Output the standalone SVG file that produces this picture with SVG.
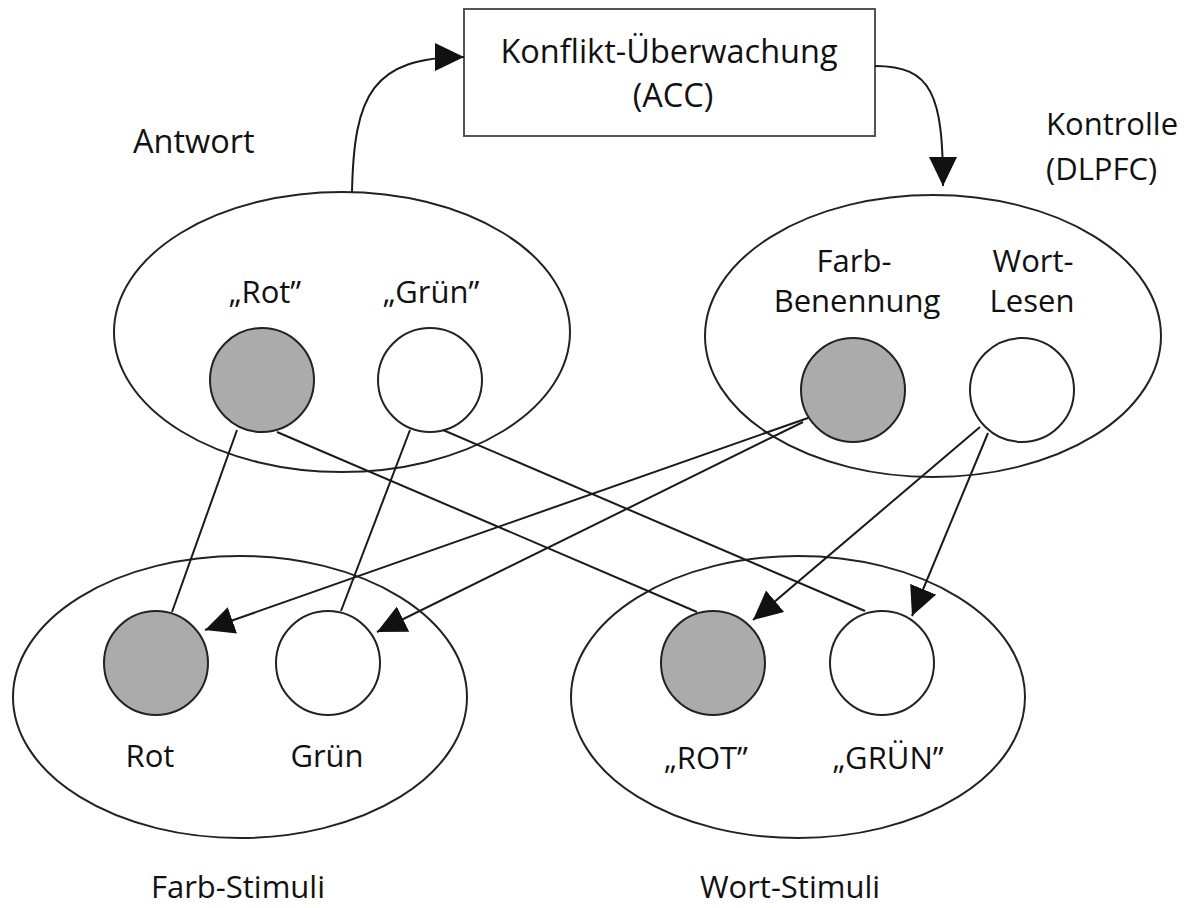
<svg xmlns="http://www.w3.org/2000/svg" width="1195" height="908" viewBox="0 0 1195 908">
  <style>
    text { font-family: "Open Sans", "Liberation Sans", sans-serif; font-size: 31px; fill: #111; }
    .mid { text-anchor: middle; }
    .big { font-size: 32.5px; }
    .group { fill: none; stroke: #222; stroke-width: 2; }
    .unit { stroke: #222; stroke-width: 2; }
    .on { fill: #ababab; }
    .off { fill: #fff; }
    .link { fill: none; stroke: #1a1a1a; stroke-width: 2; }
    .box { fill: #fff; stroke: #555; stroke-width: 2; }
  </style>
  <defs>
    <marker id="tri" markerUnits="userSpaceOnUse" markerWidth="30" markerHeight="28" refX="29" refY="14" orient="auto">
      <path d="M0,0 L29,14 L0,28 z" fill="#111"/>
    </marker>
  </defs>
  <rect width="1195" height="908" fill="#fff"/>

  <!-- monitoring box -->
  <g id="acc">
    <rect class="box" x="464" y="9" width="411" height="127"/>
    <text class="mid big" x="669" y="63">Konflikt-Überwachung</text>
    <text class="mid big" x="673" y="107">(ACC)</text>
  </g>

  <!-- response layer -->
  <g id="antwort">
    <ellipse class="group" cx="342" cy="332" rx="228" ry="140"/>
    <text class="big" x="133" y="153">Antwort</text>
  </g>
  <g id="resp-rot">
    <circle class="unit on" cx="262" cy="380" r="52"/>
    <text class="mid" x="265" y="303">„Rot”</text>
  </g>
  <g id="resp-gruen">
    <circle class="unit off" cx="430" cy="380" r="52"/>
    <text class="mid" x="431" y="303">„Grün”</text>
  </g>

  <!-- control layer -->
  <g id="kontrolle">
    <ellipse class="group" cx="933" cy="336" rx="228" ry="141"/>
    <text x="1046" y="135">Kontrolle</text>
    <text x="1046" y="180">(DLPFC)</text>
  </g>
  <g id="ctrl-farb">
    <circle class="unit on" cx="853" cy="390" r="52"/>
    <text class="mid" x="854" y="272">Farb-</text>
    <text class="mid" x="857" y="312">Benennung</text>
  </g>
  <g id="ctrl-wort">
    <circle class="unit off" cx="1022" cy="390" r="52"/>
    <text class="mid" x="1033" y="272">Wort-</text>
    <text class="mid" x="1032" y="312">Lesen</text>
  </g>

  <!-- colour stimuli -->
  <g id="farb-stimuli">
    <ellipse class="group" cx="240" cy="697" rx="227" ry="141"/>
    <text class="mid" x="238" y="898">Farb-Stimuli</text>
  </g>
  <g id="stim-rot">
    <circle class="unit on" cx="156" cy="663" r="52"/>
    <text class="mid" x="150" y="767">Rot</text>
  </g>
  <g id="stim-gruen">
    <circle class="unit off" cx="328" cy="663" r="52"/>
    <text class="mid" x="327" y="767">Grün</text>
  </g>

  <!-- word stimuli -->
  <g id="wort-stimuli">
    <ellipse class="group" cx="798" cy="697" rx="227" ry="141"/>
    <text class="mid" x="790" y="898">Wort-Stimuli</text>
  </g>
  <g id="word-rot">
    <circle class="unit on" cx="713" cy="663" r="52"/>
    <text class="mid" x="706" y="769">„ROT”</text>
  </g>
  <g id="word-gruen">
    <circle class="unit off" cx="882" cy="663" r="52"/>
    <text class="mid" x="888" y="769">„GRÜN”</text>
  </g>

  <!-- connectors -->
  <g id="connectors">
    <path class="link" d="M352,192 C354,95 372,57 464,57" marker-end="url(#tri)"/>
    <path class="link" d="M875,66 C932,66 943,95 943,186" marker-end="url(#tri)"/>

    <line class="link" x1="237" y1="430" x2="172" y2="612"/>
    <line class="link" x1="277" y1="432" x2="697" y2="612"/>
    <line class="link" x1="410" y1="430" x2="341" y2="611"/>
    <line class="link" x1="443" y1="430" x2="865" y2="611"/>

    <line class="link" x1="808" y1="418" x2="205" y2="630" marker-end="url(#tri)"/>
    <line class="link" x1="803" y1="422" x2="377" y2="632" marker-end="url(#tri)"/>
    <line class="link" x1="980" y1="427" x2="753" y2="620" marker-end="url(#tri)"/>
    <line class="link" x1="988" y1="433" x2="912" y2="616" marker-end="url(#tri)"/>
  </g>
</svg>
